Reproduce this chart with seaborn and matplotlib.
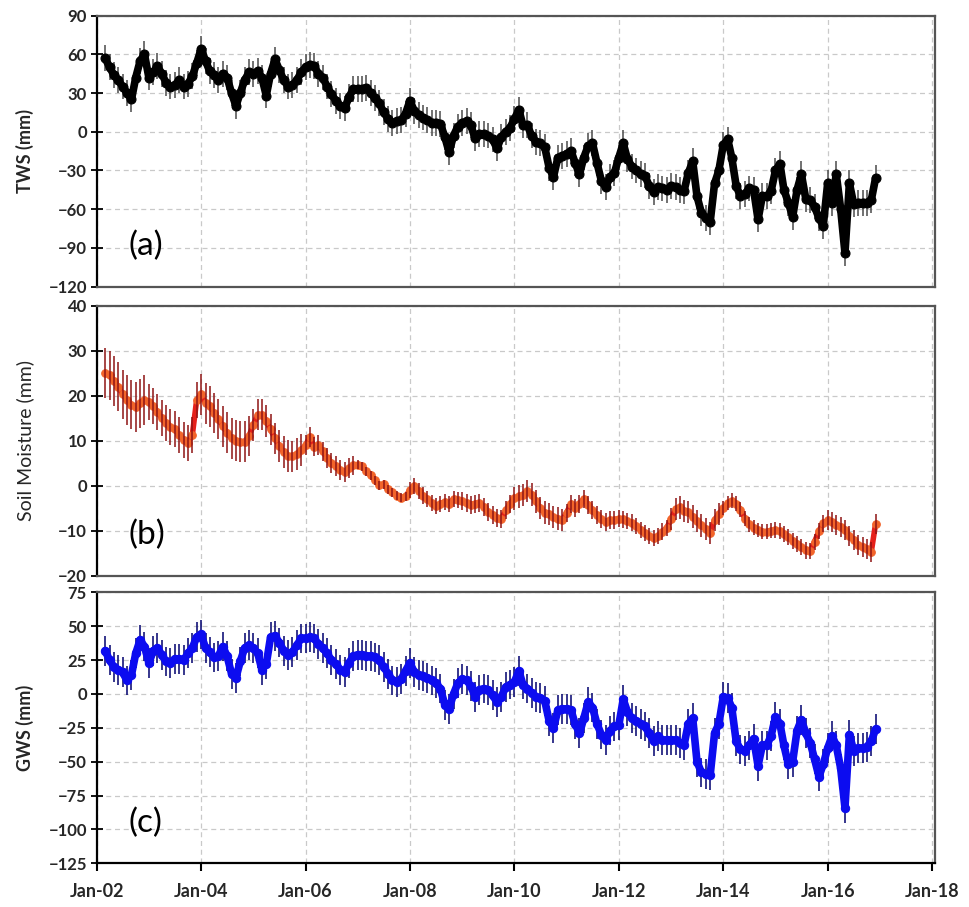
import matplotlib
matplotlib.use('Agg')
import matplotlib.pyplot as plt
import matplotlib.dates as mdates
import pandas as pd
import seaborn as sns

# monthly series, first value = Mar 2002, one row per calendar year
first_month = '2002-03-01'

tws = [57, 50, 44, 40, 35, 30, 25, 42, 55, 60,
       42, 46, 51, 45, 38, 35, 36, 40, 35, 37, 43, 53,
       64, 55, 47, 44, 40, 45, 42, 30, 20, 30, 40, 46,
       45, 47, 42, 28, 45, 56, 48, 40, 35, 36, 40, 46,
       50, 52, 51, 45, 42, 35, 29, 24, 20, 18, 27, 33,
       33, 33, 34, 30, 26, 22, 15, 10, 7, 8, 9, 14,
       24, 16, 13, 11, 9, 7, 7, 6, -4, -16, -3, 4,
       7, 8, 5, -5, -2, -2, -3, -6, -13, -4, 0, 3,
       10, 17, 5, 5, -3, -8, -9, -12, -28, -35, -20, -19,
       -17, -15, -24, -33, -20, -11, -9, -24, -38, -43, -35, -32,
       -20, -9, -21, -27, -30, -33, -34, -42, -47, -43, -44, -45,
       -42, -43, -45, -46, -32, -23, -50, -63, -67, -70, -40, -30,
       -10, -6, -20, -42, -50, -48, -44, -45, -68, -50, -50, -46,
       -30, -25, -45, -55, -66, -45, -33, -52, -53, -58, -67, -73,
       -40, -55, -33, -60, -94, -40, -56, -55, -55, -55, -53, -36]
tws_err = 10

sm = [25, 24.5, 23.3, 22, 20.3, 19, 18, 17.5, 18.3, 19,
      18.7, 17.7, 16.4, 15, 14, 13, 12.5, 11.2, 10.2, 9.4, 11.3, 19,
      20.3, 18.3, 17.6, 16.2, 14.8, 13.2, 11.8, 10.5, 10, 9.8, 9.8, 11,
      13.5, 15.8, 15.8, 14.4, 12.5, 10.5, 8.8, 7.5, 6.6, 6.5, 7, 7.9,
      9, 10.9, 8.7, 9, 7.6, 6.1, 5.1, 4.3, 3.4, 3.1, 3.9, 4.5,
      4.6, 4.3, 3.2, 2.3, 1.2, 0.1, 0.3, -0.8, -1.5, -2.2, -2.7, -2.4,
      -1, 0, -1.2, -2.2, -3, -3.9, -4.5, -4, -3.6, -4, -2.9, -3.2,
      -3.5, -3.8, -4.2, -4, -3.8, -4.8, -5.8, -6.5, -7.2, -7.4, -5.5, -4,
      -2.8, -2.4, -2.1, -1.2, -2, -3.5, -5, -6, -6.3, -7, -7.3, -7.6,
      -6, -4, -5, -4, -2.9, -4.2, -5.5, -6.6, -7.5, -8, -7.6, -7.6,
      -7.3, -7.5, -7.9, -8.2, -8.9, -9.9, -10.6, -11.2, -11.6, -11.2, -10.2, -9.4,
      -7.4, -5.2, -4.8, -5.6, -5.9, -6.9, -7.8, -8.8, -9.6, -10.5, -7.6, -6.3,
      -5, -3.9, -3.3, -4, -5.3, -7.3, -8.6, -9.3, -9.9, -10.2, -10.2, -10,
      -9.9, -10.1, -10.8, -11.4, -12.3, -13, -13.7, -14.4, -14.6, -12.5, -10.1, -8.4,
      -7.7, -8.1, -8.7, -9.1, -9.9, -11.1, -12, -13.1, -13.7, -14, -14.7, -8.5]
# soil moisture uncertainty changes from year to year
sm_err_years = list(range(2002, 2017))
sm_err = [5.5, 4.0, 4.5, 3.5, 2.2, 1.0, 1.8, 2.0, 2.5, 2.0, 1.8, 2.5, 1.6, 1.8, 2.2]

gws = [32, 25, 20, 18, 16, 10, 14, 30, 40, 35,
       23, 32, 34, 29, 24, 23, 26, 26, 25, 30, 34, 42,
       44, 34, 31, 27, 28, 35, 28, 15, 12, 24, 34, 36,
       34, 30, 18, 22, 42, 43, 38, 32, 29, 31, 36, 41,
       41, 42, 41, 37, 34, 30, 25, 22, 18, 16, 23, 28,
       29, 29, 28, 28, 27, 25, 20, 15, 10, 9, 11, 17,
       23, 16, 14, 13, 12, 10, 8, 4, -8, -11, 0, 8,
       11, 10, 6, -2, 3, 4, 3, -1, -6, -2, 5, 7,
       9, 17, 7, 4, 1, -2, -3, -5, -20, -25, -12, -11,
       -11, -12, -22, -29, -18, -6, -10, -22, -30, -34, -27, -24,
       -23, -4, -13, -18, -20, -22, -24, -29, -35, -31, -34, -34,
       -34, -34, -36, -38, -22, -18, -50, -58, -59, -60, -29, -22,
       -2, -3, -10, -35, -41, -42, -38, -33, -53, -38, -38, -31,
       -17, -22, -38, -52, -50, -27, -19, -29, -36, -48, -61, -52,
       -40, -31, -38, -55, -84, -30, -42, -40, -40, -39, -35, -26]
gws_err = 11

dates = pd.date_range(first_month, periods=len(tws), freq='MS')
df = pd.DataFrame({'date': dates, 'tws': tws, 'sm': sm, 'gws': gws})
df['sm_err'] = df['date'].dt.year.map(dict(zip(sm_err_years, sm_err)))

sns.set_theme(style='white')
plt.rcParams['font.family'] = ['Lato', 'DejaVu Sans']

fig = plt.figure(figsize=(9.69, 9.07), dpi=100)
left, width = 0.0998, 0.865
ax_a = fig.add_axes([left, 0.6841, width, 0.2987])
ax_b = fig.add_axes([left, 0.3653, width, 0.2977])
ax_c = fig.add_axes([left, 0.0483, width, 0.2985])

panels = [
    # axis, column, error, line colour, marker colour, error colour, error zorder, lw, ms, ylim, ystep, ylabel, weight, tag
    (ax_a, 'tws', tws_err, 'black', 'black', '#4a4a4a', 1, 5.5, 6.5, (-120, 90), 30, 'TWS (mm)', 'bold', '(a)'),
    (ax_b, 'sm', df['sm_err'], '#e5201a', '#f2642a', '#8e1414', 3, 4.0, 5.5, (-20, 40), 10, 'Soil Moisture (mm)', 'normal', '(b)'),
    (ax_c, 'gws', gws_err, '#0c0cf0', '#0c0cf0', '#00006e', 1, 5.5, 6.0, (-125, 75), 25, 'GWS (mm)', 'bold', '(c)'),
]

for ax, col, err, lc, mc, ec, ez, lw, ms, ylim, ystep, ylabel, wt, tag in panels:
    sns.lineplot(data=df, x='date', y=col, ax=ax, color=lc, lw=lw, marker='o',
                 markersize=ms, markerfacecolor=mc, markeredgecolor=mc,
                 solid_joinstyle='round', solid_capstyle='round', zorder=2)
    ax.errorbar(df['date'], df[col], yerr=err, fmt='none', ecolor=ec,
                elinewidth=1.1, capsize=0, zorder=ez)

    ax.set_ylim(*ylim)
    ax.set_yticks(range(ylim[0], ylim[1] + 1, ystep))
    ax.set_xlim(pd.Timestamp('2002-01-01'), pd.Timestamp('2018-01-20'))
    ax.xaxis.set_major_locator(mdates.YearLocator(2, month=1, day=1))
    ax.xaxis.set_major_formatter(mdates.DateFormatter('%b-%y'))

    ax.grid(True, ls=(0, (4, 3)), color='#c9c9c9', lw=0.9)
    ax.set_axisbelow(True)
    for side in ['top', 'right', 'bottom']:
        ax.spines[side].set_color('#555555')
        ax.spines[side].set_linewidth(1.6)
    ax.spines['left'].set_color('black')
    ax.spines['left'].set_linewidth(1.6)

    ax.tick_params(axis='y', direction='inout', length=8, width=1.3, color='black',
                   labelsize=12, pad=3, left=True)
    for lab in ax.get_yticklabels():
        lab.set_fontweight('bold')

    ax.set_xlabel('')
    ax.set_ylabel(ylabel, fontsize=13 if wt == 'bold' else 14, fontweight=wt)
    ax.yaxis.set_label_coords(-0.075, 0.5)
    ax.text(0.038, 0.15, tag, transform=ax.transAxes, fontsize=24,
            va='center', ha='left', color='black')

for ax in [ax_a, ax_b]:
    ax.tick_params(axis='x', bottom=False, labelbottom=False)

ax_c.spines['bottom'].set_color('black')
ax_c.tick_params(axis='x', direction='out', length=6, width=1.5, color='black',
                 labelsize=13, pad=8, bottom=True)
for lab in ax_c.get_xticklabels():
    lab.set_fontweight('bold')

fig.savefig('out.png', dpi=100)
